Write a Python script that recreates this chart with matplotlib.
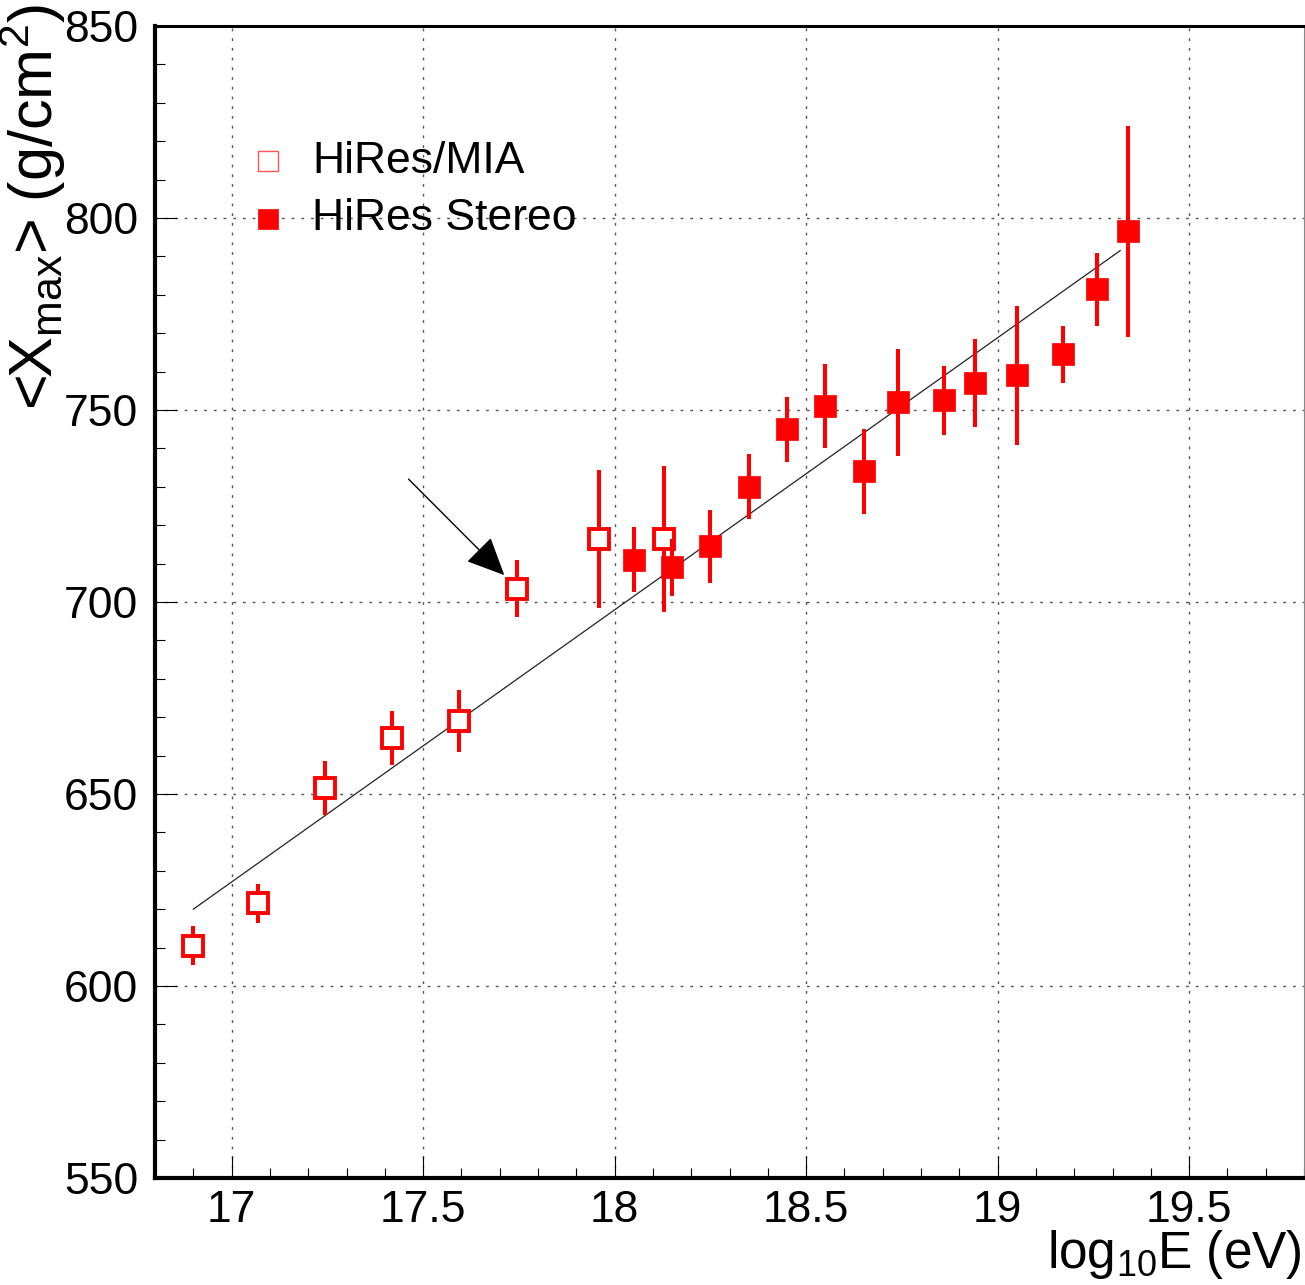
import matplotlib
matplotlib.use("Agg")
import matplotlib.pyplot as plt
from matplotlib.ticker import MultipleLocator, FormatStrFormatter

plt.rcParams['font.family'] = ['Liberation Sans', 'DejaVu Sans']
plt.rcParams['mathtext.fontset'] = 'custom'
plt.rcParams['mathtext.rm'] = 'Liberation Sans'

# HiRes/MIA hybrid measurements
mia_logE = [16.9, 17.07, 17.245, 17.42, 17.595, 17.745, 17.96, 18.13]
mia_xmax = [610.5, 621.5, 651.5, 664.5, 669.0, 703.5, 716.5, 716.5]
mia_err = [5.0, 5.0, 7.0, 7.0, 8.0, 7.5, 18.0, 19.0]

# HiRes stereo measurements
stereo_logE = [18.05, 18.15, 18.25, 18.35, 18.45, 18.55, 18.65, 18.74,
               18.86, 18.94, 19.05, 19.17, 19.26, 19.34]
stereo_xmax = [711.0, 709.0, 714.5, 730.0, 745.0, 751.0, 734.0, 752.0,
               752.5, 757.0, 759.0, 764.5, 781.5, 796.5]
stereo_err = [8.5, 7.5, 9.5, 8.5, 8.5, 11.0, 11.0, 14.0,
              9.0, 11.5, 18.0, 7.5, 9.5, 27.5]

# straight-line elongation rate fit
fit_logE = [16.9, 19.32]
fit_xmax = [620.0, 791.5]

# arrow pointing at the last low-energy MIA bin
arrow_from = (17.462, 732.0)
arrow_to = (17.712, 707.0)

W, H = 1305, 1285
fig = plt.figure(figsize=(W / 100, H / 100), dpi=100)
ax = fig.add_axes([155 / W, 107 / H, 1149 / W, 1152 / H])

ax.set_xlim(16.8, 19.8)
ax.set_ylim(550, 850)

red = '#ff0000'
ax.plot(fit_logE, fit_xmax, color='#222222', lw=0.9, zorder=2)

ax.errorbar(mia_logE, mia_xmax, yerr=mia_err, fmt='s', color=red,
            ms=14.5, mfc='white', mec=red, mew=2.8,
            elinewidth=2.9, capsize=0, zorder=3)
ax.errorbar(stereo_logE, stereo_xmax, yerr=stereo_err, fmt='s', color=red,
            ms=15.5, mfc=red, mec=red, mew=0.5,
            elinewidth=2.9, capsize=0, zorder=4)

ax.annotate('', xy=arrow_to, xytext=arrow_from,
            arrowprops=dict(arrowstyle='-|>,head_length=1.2,head_width=0.55',
                            mutation_scale=20, color='black', lw=1,
                            shrinkA=0, shrinkB=0), zorder=5)

# legend
ax.plot([0.0983], [0.8828], transform=ax.transAxes, marker='s', ms=14,
        mfc='white', mec='#ff5555', mew=1.0, clip_on=False)
ax.plot([0.0983], [0.8325], transform=ax.transAxes, marker='s', ms=15,
        mfc=red, mec=red, mew=0.5, clip_on=False)
ax.text(0.1366, 0.8828, 'HiRes/MIA', transform=ax.transAxes,
        fontsize=32, va='center', ha='left')
ax.text(0.1366, 0.8325, 'HiRes Stereo', transform=ax.transAxes,
        fontsize=32, va='center', ha='left')

# axes styling
ax.xaxis.set_major_locator(MultipleLocator(0.5))
ax.xaxis.set_minor_locator(MultipleLocator(0.1))
ax.yaxis.set_major_locator(MultipleLocator(50))
ax.yaxis.set_minor_locator(MultipleLocator(10))
ax.xaxis.set_major_formatter(FormatStrFormatter('%g'))
ax.tick_params(which='major', direction='in', length=16, width=0.8,
               labelsize=32, top=False, right=False)
ax.tick_params(which='minor', direction='in', length=7, width=0.8,
               top=False, right=False)
ax.tick_params(axis='y', pad=12)
ax.tick_params(axis='x', pad=9)

ax.grid(True, which='major', linestyle=(0, (2, 5)), color='#555555', lw=1.0)
ax.set_axisbelow(True)

for side in ('left', 'bottom'):
    ax.spines[side].set_linewidth(3.0)
ax.spines['top'].set_linewidth(2.2)
ax.spines['right'].set_linewidth(0.8)
ax.spines['right'].set_color('#888888')

fig.text(1302 / W, 17 / H, r'log$_{\mathrm{10}}$E (eV)', fontsize=37,
         ha='right', va='baseline')
fig.text(33 / W, 1 - 4 / H, r'<X$_{\mathrm{max}}$> (g/cm$^{\mathrm{2}}$)',
         fontsize=44, rotation=90, ha='center', va='top')

fig.savefig('out.png', dpi=100)
